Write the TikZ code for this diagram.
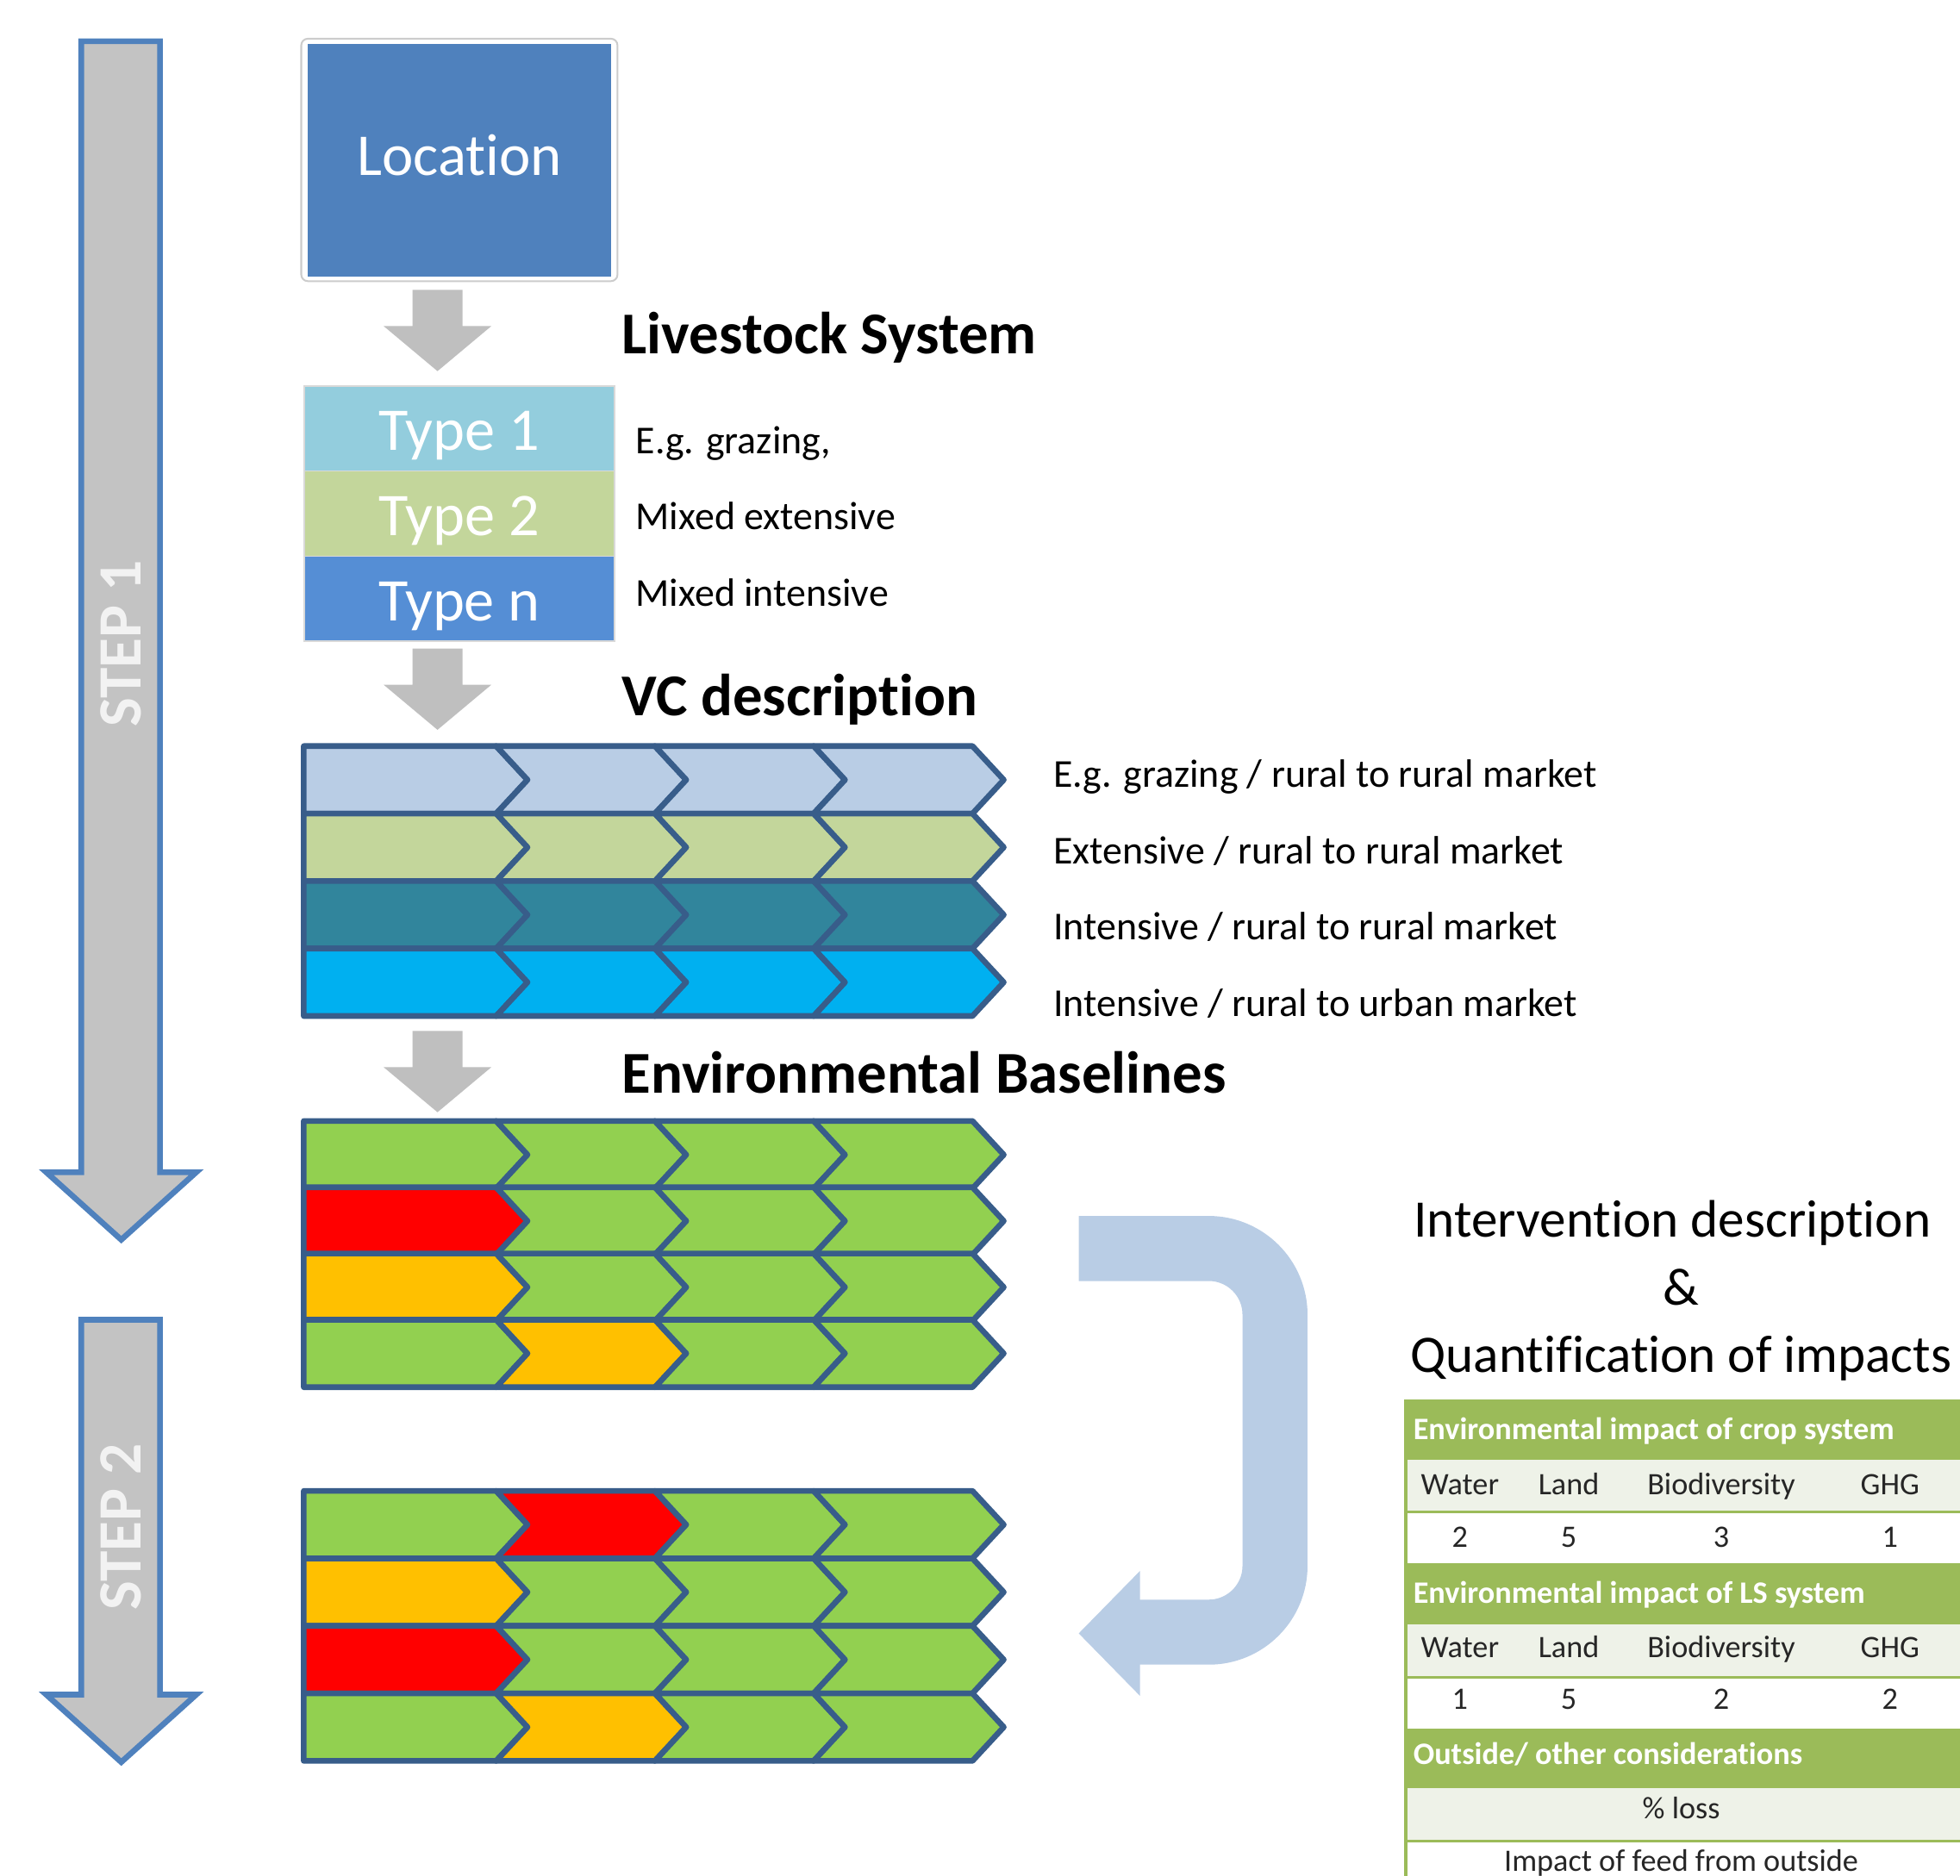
\documentclass[tikz,border=0pt]{standalone}
\usepackage{fontspec}
\setmainfont{Carlito}[Ligatures=NoCommon]
\definecolor{locblue}{HTML}{4F81BD}
\definecolor{typeone}{HTML}{93CDDD}
\definecolor{typetwo}{HTML}{C3D69B}
\definecolor{typen}{HTML}{558ED5}
\definecolor{arrowgray}{HTML}{BFBFBF}
\definecolor{stepgray}{HTML}{C3C3C3}
\definecolor{stepblue}{HTML}{4F81BD}
\definecolor{steptext}{HTML}{F2F2F2}
\definecolor{chevline}{HTML}{385D8A}
\definecolor{vcone}{HTML}{B9CDE5}
\definecolor{vctwo}{HTML}{C3D69B}
\definecolor{vcthree}{HTML}{31859C}
\definecolor{vcfour}{HTML}{00B0F0}
\definecolor{ebgreen}{HTML}{92D050}
\definecolor{ebred}{HTML}{FF0000}
\definecolor{eborange}{HTML}{FFC000}
\definecolor{ubend}{HTML}{B9CDE5}
\definecolor{tabgreen}{HTML}{9BBB59}
\definecolor{tablight}{HTML}{EEF2E8}
\def\firstchev{-- ++(154,0) -- ++(25,27) -- ++(-25,27) -- ++(-154,0) -- cycle}
\def\midchev{-- ++(127,0) -- ++(25,27) -- ++(-25,27) -- ++(-127,0) -- ++(25,-27) -- cycle}
\def\grayarrow{-- ++(40,0) -- ++(0,29) -- ++(23,0) -- ++(-43,36) -- ++(-43,-36) -- ++(23,0) -- cycle}
\tikzset{
  locbox/.style={fill=locblue, text=white, minimum width=2.43cm, minimum height=1.86cm, inner sep=0pt, text height=0.24cm, text depth=0cm, font=\fontsize{13.5}{16}\selectfont},
  typebox/.style={draw=black!15, line width=0.3pt, text=white, minimum width=2.48cm, minimum height=0.68cm, inner sep=0pt, text height=0.35cm, text depth=0cm, font=\fontsize{13.8}{16}\selectfont},
  heading/.style={anchor=base west, inner sep=0pt, font=\bfseries\fontsize{13.5}{16}\selectfont},
  desc/.style={anchor=base west, inner sep=0pt, font=\fontsize{9}{11}\selectfont},
  chev/.style={draw=chevline, line width=1.3pt, line join=round},
  blockarrow/.style={fill=arrowgray},
  steparrow/.style={draw=stepblue, fill=stepgray, line width=1.3pt},
  steplabel/.style={rotate=90, inner sep=0pt, text=steptext, font=\bfseries\fontsize{14}{16}\selectfont},
  bigtext/.style={anchor=base, inner sep=0pt, font=\fontsize{12}{14}\selectfont},
  tabhead/.style={anchor=base west, inner sep=0pt, text=white, font=\bfseries\fontsize{7.1}{9}\selectfont},
  tabcell/.style={anchor=base, inner sep=0pt, text=black!85, font=\fontsize{7.1}{9}\selectfont},
}
\begin{document}
\begin{tikzpicture}[x=0.01cm, y=-0.01cm]
  \useasboundingbox (0,0) rectangle (1568,1501);
  \draw[steparrow] (65,33) -- (128,33) -- (128,938) -- (157,938) -- (97,992) -- (37,938) -- (65,938) -- cycle;
  \draw[steparrow] (65,1056) -- (128,1056) -- (128,1356) -- (157,1356) -- (97,1410) -- (37,1356) -- (65,1356) -- cycle;
  \node[steplabel] (stepone) at (97,515) {STEP 1};
  \node[steplabel] (steptwo) at (97,1222) {STEP 2};

  \draw[black!20, fill=white, rounded corners=1.5pt] (241,31) rectangle (494,225);
  \node[locbox] (loc) at (367.5,128) {Location};
  \fill[blockarrow] (330,232) \grayarrow;
  \node[heading] (lshead) at (497,283) {Livestock System};

  \node[typebox, fill=typeone] (tone) at (367.5,343) {Type 1};
  \node[typebox, fill=typetwo] (ttwo) at (367.5,411) {Type 2};
  \node[typebox, fill=typen] (tn) at (367.5,479) {Type n};
  \node[desc] (done) at (508,363) {E.g. grazing,};
  \node[desc] (dtwo) at (508,424) {Mixed extensive};
  \node[desc] (dn) at (508,485) {Mixed intensive};

  \fill[blockarrow] (330,519) \grayarrow;
  \node[heading] (vchead) at (497,573) {VC description};
  \begin{scope}[shift={(0,597)}]
    \draw[chev, fill=vcone] (243,0) \firstchev;
    \draw[chev, fill=vcone] (397,0) \midchev;
    \draw[chev, fill=vcone] (524,0) \midchev;
    \draw[chev, fill=vcone] (651,0) \midchev;
    \draw[chev, fill=vctwo] (243,54) \firstchev;
    \draw[chev, fill=vctwo] (397,54) \midchev;
    \draw[chev, fill=vctwo] (524,54) \midchev;
    \draw[chev, fill=vctwo] (651,54) \midchev;
    \draw[chev, fill=vcthree] (243,108) \firstchev;
    \draw[chev, fill=vcthree] (397,108) \midchev;
    \draw[chev, fill=vcthree] (524,108) \midchev;
    \draw[chev, fill=vcthree] (651,108) \midchev;
    \draw[chev, fill=vcfour] (243,162) \firstchev;
    \draw[chev, fill=vcfour] (397,162) \midchev;
    \draw[chev, fill=vcfour] (524,162) \midchev;
    \draw[chev, fill=vcfour] (651,162) \midchev;
  \end{scope}
  \node[desc] (vcone) at (842,630) {E.g. grazing / rural to rural market};
  \node[desc] (vctwo) at (842,691) {Extensive / rural to rural market};
  \node[desc] (vcthree) at (842,752) {Intensive / rural to rural market};
  \node[desc] (vcfour) at (842,813) {Intensive / rural to urban market};

  \fill[blockarrow] (330,825) \grayarrow;
  \node[heading] (ebhead) at (497,875) {Environmental Baselines};
  \begin{scope}[shift={(0,897)}]
    \draw[chev, fill=ebgreen] (243,0) \firstchev;
    \draw[chev, fill=ebgreen] (397,0) \midchev;
    \draw[chev, fill=ebgreen] (524,0) \midchev;
    \draw[chev, fill=ebgreen] (651,0) \midchev;
    \draw[chev, fill=ebred] (243,53) \firstchev;
    \draw[chev, fill=ebgreen] (397,53) \midchev;
    \draw[chev, fill=ebgreen] (524,53) \midchev;
    \draw[chev, fill=ebgreen] (651,53) \midchev;
    \draw[chev, fill=eborange] (243,106) \firstchev;
    \draw[chev, fill=ebgreen] (397,106) \midchev;
    \draw[chev, fill=ebgreen] (524,106) \midchev;
    \draw[chev, fill=ebgreen] (651,106) \midchev;
    \draw[chev, fill=ebgreen] (243,159) \firstchev;
    \draw[chev, fill=eborange] (397,159) \midchev;
    \draw[chev, fill=ebgreen] (524,159) \midchev;
    \draw[chev, fill=ebgreen] (651,159) \midchev;
  \end{scope}
  \begin{scope}[shift={(0,1193)}]
    \draw[chev, fill=ebgreen] (243,0) \firstchev;
    \draw[chev, fill=ebred] (397,0) \midchev;
    \draw[chev, fill=ebgreen] (524,0) \midchev;
    \draw[chev, fill=ebgreen] (651,0) \midchev;
    \draw[chev, fill=eborange] (243,54) \firstchev;
    \draw[chev, fill=ebgreen] (397,54) \midchev;
    \draw[chev, fill=ebgreen] (524,54) \midchev;
    \draw[chev, fill=ebgreen] (651,54) \midchev;
    \draw[chev, fill=ebred] (243,108) \firstchev;
    \draw[chev, fill=ebgreen] (397,108) \midchev;
    \draw[chev, fill=ebgreen] (524,108) \midchev;
    \draw[chev, fill=ebgreen] (651,108) \midchev;
    \draw[chev, fill=ebgreen] (243,162) \firstchev;
    \draw[chev, fill=eborange] (397,162) \midchev;
    \draw[chev, fill=ebgreen] (524,162) \midchev;
    \draw[chev, fill=ebgreen] (651,162) \midchev;
  \end{scope}

  \draw[ubend, line width=0.52cm, rounded corners=0.53cm] (863,999) -- (1020,999) -- (1020,1306) -- (910,1306);
  \fill[ubend] (912,1257) -- (863,1307) -- (912,1357) -- cycle;

  \node[bigtext] (intone) at (1338,990) {Intervention description};
  \node[bigtext] (inttwo) at (1345,1044) {\&};
  \node[bigtext] (intthree) at (1345,1098) {Quantification of impacts};

  \fill[tabgreen] (1123,1120) rectangle (1568,1501);
  \fill[tablight] (1126,1168) rectangle (1568,1209);
  \fill[white] (1126,1211) rectangle (1568,1251);
  \fill[tablight] (1126,1300) rectangle (1568,1341);
  \fill[white] (1126,1343) rectangle (1568,1383);
  \fill[tablight] (1126,1431) rectangle (1568,1472);
  \fill[white] (1126,1474) rectangle (1568,1501);
  \node[tabhead] (hcrop) at (1130,1152) {Environmental impact of crop system};
  \node[tabcell] (cwater) at (1168,1196) {Water};
  \node[tabcell] (cland) at (1255,1196) {Land};
  \node[tabcell] (cbio) at (1377,1196) {Biodiversity};
  \node[tabcell] (cghg) at (1512,1196) {GHG};
  \node[tabcell] (vwater) at (1168,1238) {2};
  \node[tabcell] (vland) at (1255,1238) {5};
  \node[tabcell] (vbio) at (1377,1238) {3};
  \node[tabcell] (vghg) at (1512,1238) {1};
  \node[tabhead] (hls) at (1130,1283) {Environmental impact of LS system};
  \node[tabcell] (lwater) at (1168,1326) {Water};
  \node[tabcell] (lland) at (1255,1326) {Land};
  \node[tabcell] (lbio) at (1377,1326) {Biodiversity};
  \node[tabcell] (lghg) at (1512,1326) {GHG};
  \node[tabcell] (wwater) at (1168,1368) {1};
  \node[tabcell] (wland) at (1255,1368) {5};
  \node[tabcell] (wbio) at (1377,1368) {2};
  \node[tabcell] (wghg) at (1512,1368) {2};
  \node[tabhead] (hout) at (1130,1412) {Outside/ other considerations};
  \node[tabcell] (loss) at (1345,1455) {\% loss};
  \node[tabcell] (feed) at (1345,1497) {Impact of feed from outside};
\end{tikzpicture}
\end{document}
